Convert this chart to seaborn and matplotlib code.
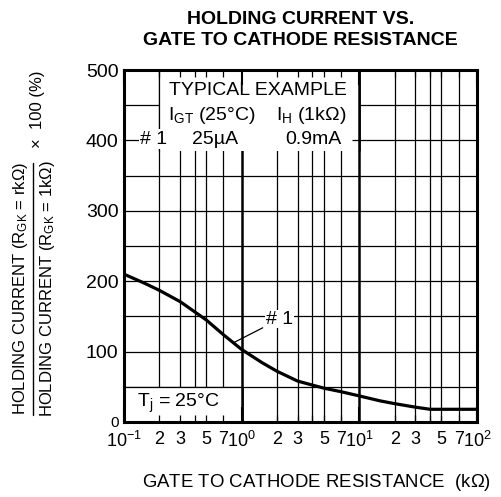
import numpy as np
import pandas as pd
import matplotlib
matplotlib.use("Agg")
import matplotlib.pyplot as plt
from matplotlib.patches import Rectangle
from matplotlib.lines import Line2D
from matplotlib.ticker import FixedLocator, FixedFormatter
import seaborn as sns

sns.set_style("white")
plt.rcParams['font.family'] = ['Liberation Sans', 'DejaVu Sans']
plt.rcParams['mathtext.fontset'] = 'custom'
plt.rcParams['mathtext.rm'] = 'Liberation Sans'
plt.rcParams['mathtext.it'] = 'Liberation Sans:italic'
plt.rcParams['mathtext.bf'] = 'Liberation Sans:bold'
plt.rcParams['text.color'] = 'black'
plt.rcParams['xtick.color'] = 'black'
plt.rcParams['ytick.color'] = 'black'
plt.rcParams['axes.labelcolor'] = 'black'

# data (#1)
rgk = [0.1, 0.15, 0.2, 0.3, 0.5, 0.7, 1, 1.5, 2, 3, 5, 7, 10, 15, 20, 30, 40, 50, 70, 100]
ratio = [210, 197, 187, 171, 145, 124, 103, 84, 72, 58, 48, 43, 37, 30, 26, 21, 18, 18, 18, 18]

x_major = [0.1, 1, 10, 100]
x_major_labels = ["10$^{-1}$", "10$^{0}$", "10$^{1}$", "10$^{2}$"]
x_minor_mult = [2, 3, 4, 5, 7]
y_ticks = [0, 100, 200, 300, 400, 500]

df = pd.DataFrame({"rgk": rgk, "ratio": ratio})

fig = plt.figure(figsize=(5.02, 4.97), dpi=100)
ax = fig.add_axes([0.247, 0.151, 0.703, 0.708])
ax.set_xscale("log")
ax.set_xlim(0.1, 100)
ax.set_ylim(0, 500)

# grid
for d in [0.1, 1, 10]:
    for m in x_minor_mult:
        ax.axvline(d * m, color="black", lw=0.9, zorder=1)
for d in [1, 10]:
    ax.axvline(d, color="black", lw=1.8, zorder=1)
for yv in range(50, 500, 50):
    ax.axhline(yv, color="black", lw=0.9, zorder=1)

# white boxes
ax.add_patch(Rectangle((0.2, 385), 9.8, 115, facecolor="white", edgecolor="none", zorder=1.5))
ax.add_patch(Rectangle((0.1, 0), 0.9, 50, facecolor="white", edgecolor="none", zorder=1.5))
ax.vlines(0.2, 385, 500, color="black", lw=0.9, zorder=1.7)
ax.vlines(10, 385, 500, color="black", lw=1.8, zorder=1.7)
ax.vlines(1, 0, 50, color="black", lw=1.8, zorder=1.7)
ax.hlines(50, 0.1, 1, color="black", lw=0.9, zorder=1.7)
ax.hlines(400, 8.6, 10, color="black", lw=0.9, zorder=1.7)

sns.lineplot(data=df, x="rgk", y="ratio", ax=ax, color="black", lw=2.3, zorder=3)

# ticks
ax.xaxis.set_major_locator(FixedLocator(x_major))
ax.xaxis.set_major_formatter(FixedFormatter(x_major_labels))
minor = [d * m for d in [0.1, 1, 10] for m in x_minor_mult]
ax.xaxis.set_minor_locator(FixedLocator(minor))
ax.xaxis.set_minor_formatter(FixedFormatter([("" if m == 4 else str(m)) for d in [0.1, 1, 10] for m in x_minor_mult]))
ax.set_yticks(y_ticks)
ax.set_axisbelow(False)
ax.tick_params(axis="x", which="both", direction="in", top=True, bottom=True, labelsize=13, pad=6.5,
               color="black", labelcolor="black")
ax.tick_params(axis="x", which="major", length=11, width=1.5)
ax.tick_params(axis="x", which="minor", length=5, width=0.9)
ax.tick_params(axis="y", which="both", length=0, labelsize=14, pad=4, labelcolor="black")
ylabels = ax.get_yticklabels()
ylabels[0].set_fontsize(11)
ax.set_xlabel("")
ax.set_ylabel("")
for s in ax.spines.values():
    s.set_linewidth(2.2)
    s.set_color("black")
    s.set_zorder(4)

# annotations
fs = 14
ax.text(1.37, 471, "TYPICAL EXAMPLE", ha="center", va="center", fontsize=fs, zorder=4)
ax.text(0.56, 436, "I$_{\\mathrm{GT}}$ (25°C)", ha="center", va="center", fontsize=fs, zorder=4)
ax.text(3.9, 436, "I$_{\\mathrm{H}}$ (1k$\\Omega$)", ha="center", va="center", fontsize=fs, zorder=4)
ax.text(0.18, 402, "# 1", ha="center", va="center", fontsize=fs, zorder=4,
        bbox=dict(facecolor="white", edgecolor="none", pad=1))
ax.text(0.59, 402, "25µA", ha="center", va="center", fontsize=fs, zorder=4)
ax.text(4.04, 402, "0.9mA", ha="center", va="center", fontsize=fs, zorder=4)
ax.text(0.29, 27, "T$_{\\mathrm{j}}$ = 25°C", ha="center", va="center", fontsize=fs, zorder=4)
ax.annotate("# 1", xy=(0.84, 112), xytext=(2.1, 146), ha="center", va="center", fontsize=fs,
            zorder=4, bbox=dict(facecolor="white", edgecolor="none", pad=0.5),
            arrowprops=dict(arrowstyle="-", color="black", lw=0.9, shrinkA=2, shrinkB=0))

# titles and labels
fig.text(0.598, 0.94, "HOLDING CURRENT VS.\nGATE TO CATHODE RESISTANCE", ha="center", va="center",
         fontsize=14, fontweight="bold", linespacing=1.3)
fig.text(0.63, 0.03, "GATE TO CATHODE RESISTANCE  (k$\\Omega$)", ha="center", va="center", fontsize=13.4)
fig.text(0.040, 0.42, "HOLDING CURRENT (R$_{\\mathrm{GK}}$ = rk$\\Omega$)", rotation=90, ha="center", va="center", fontsize=12)
fig.text(0.094, 0.42, "HOLDING CURRENT (R$_{\\mathrm{GK}}$ = 1k$\\Omega$)", rotation=90, ha="center", va="center", fontsize=12)
fig.add_artist(Line2D([0.066, 0.066], [0.165, 0.672], color="black", lw=1.0, transform=fig.transFigure))
fig.text(0.074, 0.78, "×  100 (%)", rotation=90, ha="center", va="center", fontsize=12)

fig.savefig("out.png", dpi=100)
